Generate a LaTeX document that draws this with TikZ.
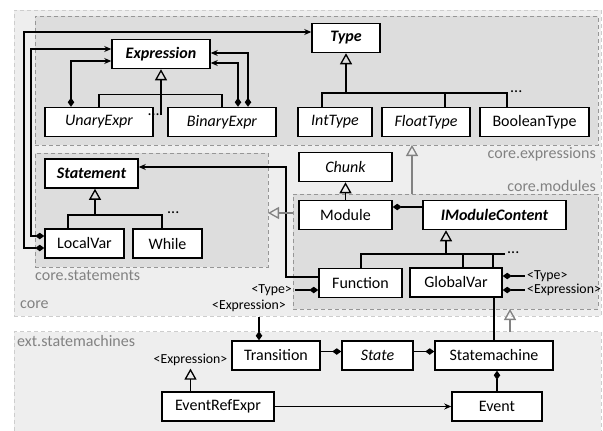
\documentclass[tikz,border=0pt]{standalone}
\usepackage{fontspec}
\setmainfont{Carlito}
\usepackage{tikz}
\usetikzlibrary{arrows.meta,shapes,positioning,calc}
\usepackage{xcolor}
\definecolor{pkgouter}{RGB}{238,238,238}
\definecolor{pkginner}{RGB}{221,221,221}
\definecolor{pkgline}{RGB}{150,150,150}
\definecolor{pkglight}{RGB}{205,205,205}
\definecolor{pkgtext}{RGB}{130,130,130}
\newcommand{\umlfont}{\fontsize{16}{19}\selectfont}
\newcommand{\tagfont}{\fontsize{13.8}{16}\selectfont}
\tikzstyle{umlclass} = [rectangle, draw=black, line width=1.5pt, fill=white, minimum height=29pt, inner sep=0pt, font=\umlfont]
\tikzstyle{abstractclass} = [umlclass, font=\umlfont\bfseries\itshape]
\tikzstyle{italicclass} = [umlclass, font=\umlfont\itshape]
\tikzstyle{pkgbox} = [rectangle, draw=pkgline, fill=pkginner, line width=1pt, dash pattern=on 4pt off 3pt, inner sep=0pt, outer sep=0pt]
\tikzstyle{pkgouterbox} = [pkgbox, draw=pkglight, fill=pkgouter]
\tikzstyle{pkglabel} = [text=pkgtext, font=\umlfont, inner sep=0pt]
\tikzstyle{taglabel} = [font=\tagfont, inner sep=2.5pt]
\tikzstyle{dotslabel} = [font=\umlfont, inner sep=0pt]
\tikzstyle{assoc} = [line width=1.3pt]
\tikzstyle{inherit} = [assoc, -{Triangle[open, length=11pt, width=12pt]}]
\tikzstyle{compose} = [assoc, {Diamond[length=9pt, width=6.5pt]}-]
\tikzstyle{navig} = [assoc, -{Stealth[length=7pt, width=6pt]}]
\tikzstyle{compnav} = [assoc, {Diamond[length=9pt, width=6.5pt]}-{Stealth[length=7pt, width=6pt]}]
\tikzstyle{pkgdep} = [line width=1.3pt, draw=pkgtext, -{Triangle[open, length=11pt, width=12pt]}]

\begin{document}
\begin{tikzpicture}[x=1pt, y=-1pt]
    \useasboundingbox (0,0) rectangle (603,431);

    % Packages
    \node[pkgouterbox, minimum width=587, minimum height=306] (core) at (307.5,163) {};
    \node[pkgouterbox, minimum width=587, minimum height=103] (pext) at (307.5,383) {};
    \node[pkgbox, minimum width=563, minimum height=129] (pexpr) at (316.5,80.5) {};
    \node[pkgbox, minimum width=233, minimum height=114] (pstmt) at (151.5,210) {};
    \node[pkgbox, minimum width=305, minimum height=115] (pmod) at (445.5,251.5) {};

    \node[pkglabel, anchor=base west] (lcore) at (20,308) {core};
    \node[pkglabel, anchor=base east] (lexpr) at (596,158) {core.expressions};
    \node[pkglabel, anchor=base east] (lmod) at (596,191) {core.modules};
    \node[pkglabel, anchor=base west] (lstmt) at (35,280) {core.statements};
    \node[pkglabel, anchor=base west] (lext) at (17,346) {ext.statemachines};

    % core.expressions
    \node[abstractclass, minimum width=98] (expr) at (161,54) {Expression};
    \node[abstractclass, minimum width=68] (type) at (346,38) {Type};
    \node[italicclass, minimum width=108] (unary) at (99,122) {UnaryExpr};
    \node[italicclass, minimum width=108] (binary) at (222,122) {BinaryExpr};
    \node[italicclass, minimum width=74] (inttype) at (335,122) {IntType};
    \node[italicclass, minimum width=88] (floattype) at (426,122) {FloatType};
    \node[umlclass, minimum width=109] (booltype) at (534.5,122) {BooleanType};

    % core.statements
    \node[abstractclass, minimum width=93] (stmt) at (91.5,173.5) {Statement};
    \node[umlclass, minimum width=79] (localvar) at (84.5,243.5) {LocalVar};
    \node[umlclass, minimum width=69] (whilestmt) at (167.5,243.5) {While};

    % core.modules
    \node[italicclass, minimum width=93] (chunk) at (345.5,167) {Chunk};
    \node[umlclass, minimum width=93] (module) at (345.5,215) {Module};
    \node[abstractclass, minimum width=143] (imc) at (494.5,215) {IModuleContent};
    \node[umlclass, minimum width=83] (function) at (360.5,283) {Function};
    \node[umlclass, minimum width=92] (globalvar) at (456,282.5) {GlobalVar};

    % ext.statemachines
    \node[umlclass, minimum width=88] (transition) at (276,355.5) {Transition};
    \node[italicclass, minimum width=71] (state) at (377.5,355.5) {State};
    \node[umlclass, minimum width=118] (statemachine) at (494,355.5) {Statemachine};
    \node[umlclass, minimum width=112] (eventref) at (218,406.5) {EventRefExpr};
    \node[umlclass, minimum width=90] (event) at (497,406.5) {Event};

    % Type parameters
    \node[taglabel, anchor=east] (ftype) at (294.5,290) {<Type>};
    \node[taglabel, anchor=west] (gtype) at (524.5,276) {<Type>};
    \node[taglabel, anchor=west] (gexpr) at (524.5,290) {<Expression>};
    \node[taglabel] (trexpr) at (249,306) {<Expression>};
    \node[taglabel] (erexpr) at (190.5,360) {<Expression>};

    % Bend points
    \coordinate (exprdots) at (161,115);
    \coordinate (typebar) at (346,93);
    \coordinate (tb1) at (322,93);
    \coordinate (tb2) at (445,93);
    \coordinate (tb3) at (507,93);
    \coordinate (stmtbar) at (95,215);
    \coordinate (sb1) at (68,215);
    \coordinate (sb2) at (162,215);
    \coordinate (imcbar) at (446,254);
    \coordinate (ib1) at (361,254);
    \coordinate (ib2) at (463,254);
    \coordinate (ib3) at (493,254);
    \coordinate (ib4) at (505,254);
    \coordinate (lvexpr) at (31,49);
    \coordinate (lvtype) at (24,32);
    \coordinate (fnstmt) at (286,167);
    \coordinate (trexprpin) at (259,317);
    \coordinate (pexprpin) at (412,0);
    \coordinate (pmodpin) at (0,213);
    \coordinate (pextpin) at (510,0);

    % Inheritance
    \draw[inherit] (exprdots) -- (expr.south);
    \draw[assoc] (unary.north) -- ++(0,-12) -| (binary.north);
    \node[dotslabel, anchor=base east] (exprmore) at (160,115) {...};
    \draw[inherit] (typebar) -- (type.south);
    \draw[assoc] (tb1 |- inttype.north) -- (tb1) -- (tb3) -- (tb3 |- booltype.north);
    \draw[assoc] (tb2) -- (tb2 |- floattype.north);
    \node[dotslabel, anchor=base west] (typemore) at (510,92) {...};
    \draw[inherit] (stmtbar) -- (stmtbar |- stmt.south);
    \draw[assoc] (sb1 |- localvar.north) -- (sb1) -- (sb2) -- (sb2 |- whilestmt.north);
    \node[dotslabel, anchor=base west] (stmtmore) at (167,213) {...};
    \draw[inherit] (module.north) -- (chunk.south);
    \draw[inherit] (imcbar) -- (imcbar |- imc.south);
    \draw[assoc] (ib1 |- function.north) -- (ib1) -- (ib4);
    \draw[assoc] (ib2) -- (ib2 |- globalvar.north);
    \draw[assoc] (ib3) -- (ib3 |- globalvar.north);
    \node[dotslabel, anchor=base west] (imcmore) at (507,253) {...};
    \draw[inherit] (erexpr.south |- eventref.north) -- (erexpr.south);

    % Compositions and references
    \draw[compnav] ([xshift=-28pt]unary.north) |- ([yshift=-7pt]expr.west);
    \draw[compnav] ([xshift=16pt]binary.north) |- ([yshift=-9pt]expr.east);
    \draw[compnav] ([xshift=26pt]binary.north) |- ([yshift=1pt]expr.east);
    \draw[compnav] ([yshift=7.5pt]localvar.west) -| (lvexpr) -- ([yshift=5pt]expr.west);
    \draw[compnav] ([yshift=-4.5pt]localvar.west) -| (lvtype) -- ([yshift=6pt]type.west);
    \draw[navig] ([yshift=6pt]function.west) -| (fnstmt) -- ([yshift=6.5pt]stmt.east);
    \draw[compose] ([yshift=8pt]module.east) -- ([yshift=8pt]imc.west);
    \draw[compose] (ftype -| function.west) -- (ftype.east);
    \draw[compose] (gtype -| globalvar.east) -- (gtype.west);
    \draw[compose] (gexpr -| globalvar.east) -- (gexpr.west);
    \draw[compose] (trexprpin |- transition.north) -- (trexprpin);
    \draw[compose] ([yshift=4pt]state.west) -- ([yshift=4pt]transition.east);
    \draw[compose] ([yshift=4pt]statemachine.west) -- ([yshift=4pt]state.east);
    \draw[compose] (event.north |- statemachine.south) -- (event.north);
    \draw[assoc] (statemachine.north) -- (statemachine.north |- globalvar.south);
    \draw[navig] (eventref) -- (event);

    % Package dependencies
    \draw[pkgdep] (pexprpin |- pmod.north) -- (pexprpin |- pexpr.south);
    \draw[pkgdep] (pmod.west |- pmodpin) -- (pstmt.east |- pmodpin);
    \draw[pkgdep] (pextpin |- pext.north) -- (pextpin |- pmod.south);
\end{tikzpicture}
\end{document}
